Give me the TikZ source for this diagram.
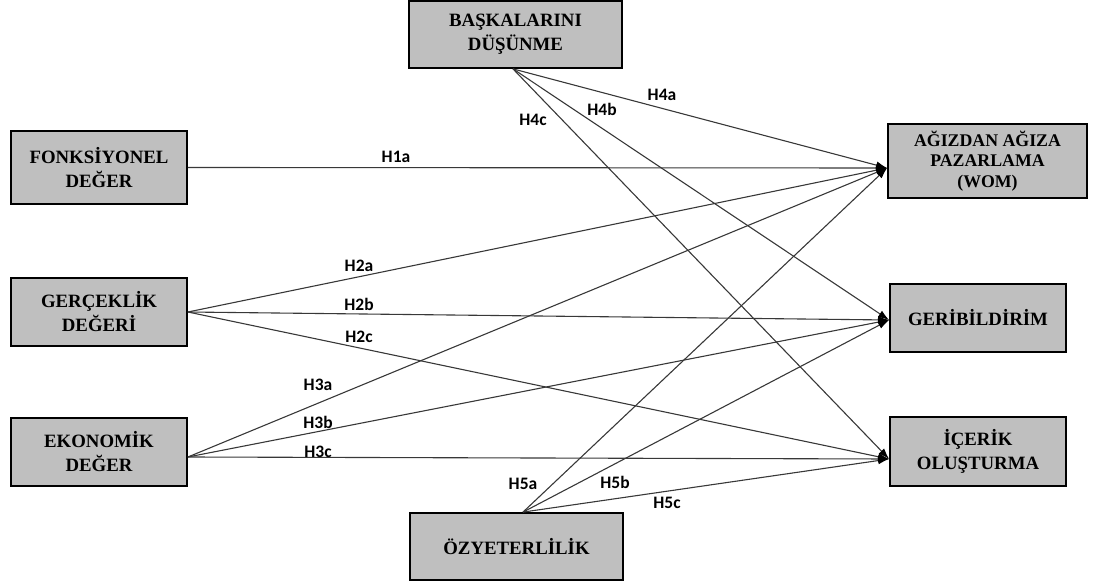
\documentclass[tikz,border=0pt]{standalone}
\usepackage{fontspec}
\setmainfont{Liberation Serif}
\newfontfamily\hypfont{Carlito}
\usetikzlibrary{arrows.meta,calc}
\definecolor{boxfill}{RGB}{191,191,191}
\definecolor{linkgray}{RGB}{56,56,56}
\begin{document}
\begin{tikzpicture}[x=1pt,y=-1pt,
  construct/.style={draw=black,line width=1.8pt,fill=boxfill,rectangle,
    inner sep=0pt,align=center,font=\fontsize{18.8}{24}\selectfont\bfseries},
  link/.style={draw=linkgray,line width=1.1pt,
    -{Latex[length=11pt,width=7.5pt,color=black]}},
  hyp/.style={font=\hypfont\fontsize{17.5}{18}\selectfont\bfseries,inner sep=0pt}]
\useasboundingbox (0,0) rectangle (1093,588);

% constructs
\node[construct,minimum width=213pt,minimum height=67pt] (bask) at (515.5,34.5) {BAŞKALARINI\\DÜŞÜNME};
\node[construct,minimum width=176pt,minimum height=73pt] (fonk) at (99,167.5) {FONKSİYONEL\\DEĞER};
\node[construct,minimum width=176pt,minimum height=68pt] (gerc) at (99,312) {GERÇEKLİK\\DEĞERİ};
\node[construct,minimum width=176pt,minimum height=68pt] (eko) at (99,452) {EKONOMİK\\DEĞER};
\node[construct,minimum width=213pt,minimum height=67pt] (ozy) at (516.5,546.5) {ÖZYETERLİLİK};
\node[construct,minimum width=199pt,minimum height=74pt,
  font=\fontsize{17.8}{20.5}\selectfont\bfseries] (wom) at (987.5,161) {AĞIZDAN AĞIZA\\PAZARLAMA\\(WOM)};
\node[construct,minimum width=176pt,minimum height=68pt] (geri) at (978,318) {GERİBİLDİRİM};
\node[construct,minimum width=176pt,minimum height=69pt] (icer) at (978,451.5) {İÇERİK\\OLUŞTURMA};

% entry and exit points
\coordinate (womIn) at ($(wom.west)+(0,7)$);
\coordinate (geriIn) at ($(geri.west)+(0,2)$);
\coordinate (icerIn) at ($(icer.west)+(0,7.5)$);
\coordinate (ekoOut) at ($(eko.east)+(0,5)$);
\coordinate (baskOut) at ($(bask.south)+(-2.5,0)$);
\coordinate (ozyOut) at ($(ozy.north)+(6.5,0)$);

% hypothesised paths
\draw[link] (fonk.east) -- (womIn);
\draw[link] (gerc.east) -- (womIn);
\draw[link] (gerc.east) -- (geriIn);
\draw[link] (gerc.east) -- (icerIn);
\draw[link] (ekoOut) -- (womIn);
\draw[link] (ekoOut) -- (geriIn);
\draw[link] (ekoOut) -- (icerIn);
\draw[link] (baskOut) -- (womIn);
\draw[link] (baskOut) -- (geriIn);
\draw[link] (baskOut) -- (icerIn);
\draw[link] (ozyOut) -- (womIn);
\draw[link] (ozyOut) -- (geriIn);
\draw[link] (ozyOut) -- (icerIn);

% hypothesis labels
\node[hyp] (lH1a) at (396,157) {H1a};
\node[hyp] (lH2a) at (359,266) {H2a};
\node[hyp] (lH2b) at (359,304) {H2b};
\node[hyp] (lH2c) at (359,337) {H2c};
\node[hyp] (lH3a) at (318,385) {H3a};
\node[hyp] (lH3b) at (318,422) {H3b};
\node[hyp] (lH3c) at (318,452) {H3c};
\node[hyp] (lH4a) at (662,95) {H4a};
\node[hyp] (lH4b) at (602,109) {H4b};
\node[hyp] (lH4c) at (533,120) {H4c};
\node[hyp] (lH5a) at (523,484) {H5a};
\node[hyp] (lH5b) at (615,482) {H5b};
\node[hyp] (lH5c) at (667,503) {H5c};
\end{tikzpicture}
\end{document}
